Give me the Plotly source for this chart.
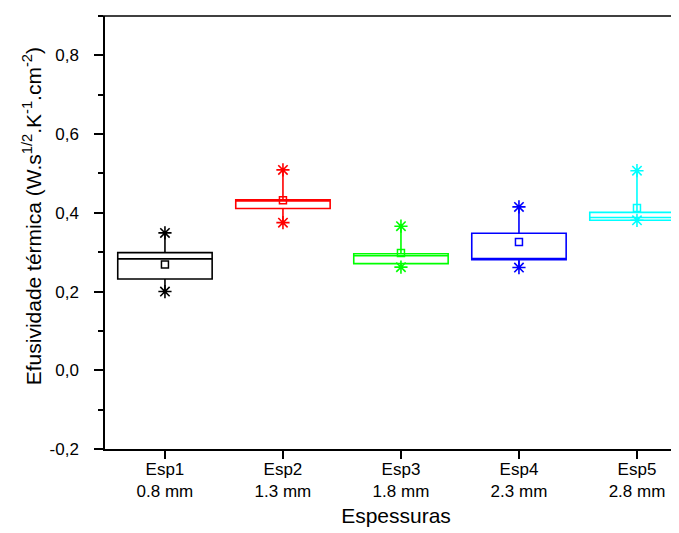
import plotly.graph_objects as go

names = ["Esp1", "Esp2", "Esp3", "Esp4", "Esp5"]
thickness = ["0.8 mm", "1.3 mm", "1.8 mm", "2.3 mm", "2.8 mm"]
colors = ["#000000", "#FF0000", "#00FF00", "#0000FF", "#00FFFF"]

q1 = [0.232, 0.411, 0.271, 0.281, 0.381]
median = [0.283, 0.431, 0.291, 0.281, 0.388]
q3 = [0.299, 0.433, 0.296, 0.348, 0.401]
vmin = [0.200, 0.375, 0.262, 0.261, 0.381]
vmax = [0.349, 0.509, 0.366, 0.415, 0.507]
mean = [0.269, 0.432, 0.298, 0.326, 0.412]

ytickvals = [-0.2, 0.0, 0.2, 0.4, 0.6, 0.8]
yticktext = ["-0,2", "0,0", "0,2", "0,4", "0,6", "0,8"]
ytitle = "Efusividade térmica (W.s<sup>1/2</sup>.K<sup>-1</sup>.cm<sup>-2</sup>)"

cats = [f"{n}<br>{t}" for n, t in zip(names, thickness)]
font = "Arial, Liberation Sans, sans-serif"

fig = go.Figure()
for i, c in enumerate(cats):
    fig.add_trace(go.Box(
        x=[c], q1=[q1[i]], median=[median[i]], q3=[q3[i]],
        lowerfence=[vmin[i]], upperfence=[vmax[i]],
        line=dict(color=colors[i], width=1.6),
        fillcolor="rgba(0,0,0,0)", whiskerwidth=0, width=0.8,
        boxpoints=False, showlegend=False, hoverinfo="skip",
    ))
    fig.add_trace(go.Scatter(
        x=[c, c], y=[vmin[i], vmax[i]], mode="markers",
        marker=dict(symbol="asterisk-open", size=11, color=colors[i],
                    line=dict(color=colors[i], width=1.6)),
        showlegend=False, hoverinfo="skip",
    ))
    fig.add_trace(go.Scatter(
        x=[c], y=[mean[i]], mode="markers",
        marker=dict(symbol="square-open", size=7, color=colors[i],
                    line=dict(color=colors[i], width=1.5)),
        showlegend=False, hoverinfo="skip",
    ))

fig.add_shape(type="line", xref="paper", yref="paper", x0=-0.01, x1=1, y0=1, y1=1,
              line=dict(color="black", width=1.5))

fig.add_annotation(text=ytitle, xref="paper", yref="paper", x=-0.124, y=0.537,
                   xanchor="center", yanchor="middle", textangle=-90, showarrow=False,
                   font=dict(size=21))

fig.update_layout(
    width=679, height=533,
    margin=dict(l=97, r=0, t=8, b=92),
    plot_bgcolor="white", paper_bgcolor="white",
    font=dict(family=font, size=17, color="black"),
    boxmode="overlay",
    xaxis=dict(
        type="category", categoryorder="array", categoryarray=cats,
        range=[-0.508, 4.424],
        showline=True, linecolor="black", linewidth=1.5,
        ticks="outside", ticklen=8, tickwidth=1.5, tickcolor="black",
        showgrid=False, zeroline=False,
        tickfont=dict(size=17),
        ticklabelstandoff=-4,
        title=dict(text="Espessuras", font=dict(size=21), standoff=8),
    ),
    yaxis=dict(
        range=[-0.2, 0.9],
        tickvals=ytickvals, ticktext=yticktext,
        showline=True, linecolor="black", linewidth=1.5,
        ticks="outside", ticklen=9, tickwidth=1.5, tickcolor="black",
        minor=dict(dtick=0.1, ticks="outside", ticklen=5, tickwidth=1.5,
                   tickcolor="black", showgrid=False),
        showgrid=False, zeroline=False,
        tickfont=dict(size=17),
        ticklabelstandoff=12,
    ),
)

fig.write_html("out.html")
